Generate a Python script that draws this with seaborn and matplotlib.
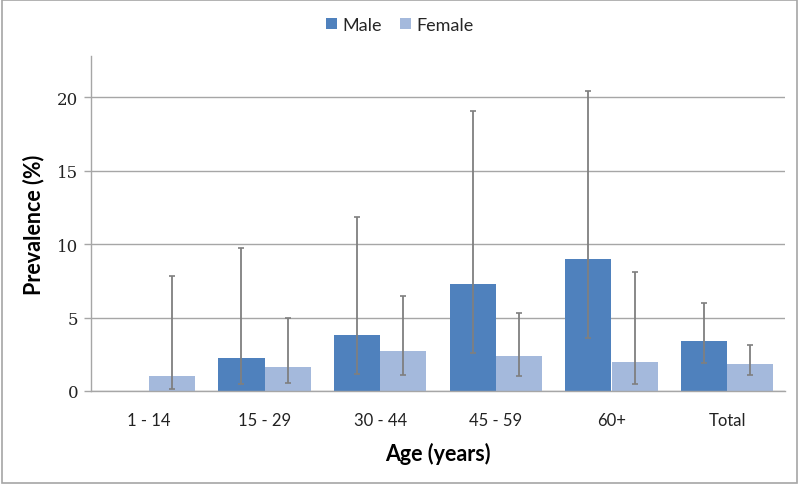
import matplotlib
matplotlib.use("Agg")
import matplotlib.pyplot as plt
import seaborn as sns
import pandas as pd
import numpy as np
from matplotlib.patches import Rectangle

ages = ["1 - 14", "15 - 29", "30 - 44", "45 - 59", "60+", "Total"]
male = [0.0, 2.25, 3.8, 7.3, 8.95, 3.41]
female = [1.05, 1.66, 2.75, 2.36, 1.98, 1.86]
male_lo = [np.nan, 0.48, 1.16, 2.57, 3.62, 1.93]
male_hi = [np.nan, 9.7, 11.83, 19.05, 20.45, 5.96]
female_lo = [0.14, 0.55, 1.11, 1.02, 0.48, 1.11]
female_hi = [7.8, 4.96, 6.46, 5.32, 8.12, 3.16]

sns.set_theme(style="white")
plt.rcParams['font.family'] = ['Lato', 'DejaVu Sans']

df = pd.DataFrame({
    "Age": ages * 2,
    "Sex": ["Male"] * len(ages) + ["Female"] * len(ages),
    "Prevalence": male + female,
})

fig = plt.figure(figsize=(8, 4.85), dpi=100)
ax = fig.add_axes([91/800, 1-392/485, (785-91)/800, (392-57)/485])

colors = {"Male": "#4F81BD", "Female": "#A4B9DC"}
sns.barplot(data=df, x="Age", y="Prevalence", hue="Sex", order=ages,
            hue_order=["Male", "Female"], palette=colors, width=0.8,
            errorbar=None, saturation=1, ax=ax, linewidth=0, zorder=2)

for cont, vals, lo, hi in zip(ax.containers, [male, female],
                              [male_lo, female_lo], [male_hi, female_hi]):
    xs = [p.get_x() + p.get_width()/2 for p in cont.patches]
    v = np.array(vals); l = np.array(lo); h = np.array(hi)
    ax.errorbar(xs, v, yerr=[v - l, h - v], fmt="none", ecolor="#7F7F7F",
                elinewidth=1.3, capsize=2.5, capthick=1.2, zorder=3)

ax.set_ylim(0, 22.8)
ax.set_xlim(-0.5, len(ages) - 0.5)
ax.set_yticks([0, 5, 10, 15, 20])
ax.yaxis.grid(True, color="#A6A6A6", linewidth=1)
ax.set_axisbelow(True)
for s in ["top", "right"]:
    ax.spines[s].set_visible(False)
for s in ["left", "bottom"]:
    ax.spines[s].set_color("#A6A6A6")
    ax.spines[s].set_linewidth(1)
ax.tick_params(axis="y", left=True, length=5, color="#A6A6A6", width=1, pad=4)
ax.tick_params(axis="x", bottom=False, pad=9)
for t in ax.get_yticklabels():
    t.set_fontfamily("DejaVu Serif")
    t.set_fontsize(12)
    t.set_color("#222222")
for t in ax.get_xticklabels():
    t.set_fontsize(12)
    t.set_color("#222222")

ax.set_xlabel("Age (years)", fontsize=15.5, fontweight="bold", labelpad=10, color="black")
ax.set_ylabel("Prevalence (%)", fontsize=15.5, fontweight="bold", labelpad=9, color="black")

leg = ax.legend(loc="center", bbox_to_anchor=(400/800, 1-26/485),
                bbox_transform=fig.transFigure, ncol=2, frameon=False,
                fontsize=13, handlelength=0.6, handleheight=0.6,
                handletextpad=0.3, columnspacing=1.0)

fig.patches.append(Rectangle((0.002, 0.003), 0.994, 0.994, transform=fig.transFigure,
                             fill=False, edgecolor="#A6A6A6", linewidth=1.2))

fig.savefig("out.png", dpi=100)
